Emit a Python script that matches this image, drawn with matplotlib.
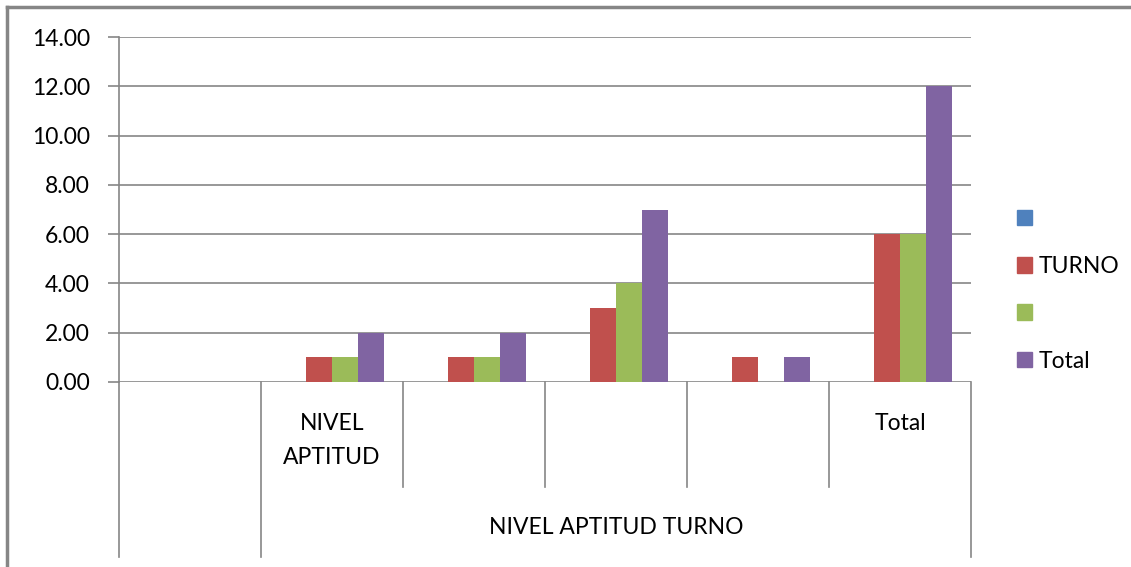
import numpy as np
import matplotlib
matplotlib.use("Agg")
import matplotlib.pyplot as plt
from matplotlib.lines import Line2D
from matplotlib.patches import Patch

plt.rcParams['font.family'] = ['Lato', 'DejaVu Sans']

# Categorías del eje X (nivel inferior) y series
categorias = ["", "NIVEL\nAPTITUD", "", "", "", "Total"]
grupo = "NIVEL APTITUD TURNO"
series = ["", "TURNO", "", "Total"]
serie_azul = [0, 0, 0, 0, 0, 0]
serie_turno = [0, 1, 1, 3, 1, 6]
serie_verde = [0, 1, 1, 4, 0, 6]
serie_total = [0, 2, 2, 7, 1, 12]
colores = ["#4F81BD", "#C0504D", "#9BBB59", "#8064A2"]

W, H = 1131, 567
fig = plt.figure(figsize=(W / 100, H / 100), dpi=100)
gris = "#868686"
fs = 16.5

# marco exterior (solo se ven el borde izquierdo y el superior)
fig.add_artist(Line2D([7 / W, 7 / W], [0, 1 - 7 / H], color=gris, lw=2.5))
fig.add_artist(Line2D([7 / W, 1], [1 - 7 / H, 1 - 7 / H], color=gris, lw=2.5))

x0, x1, y0, y1 = 119, 971, 382, 37
ax = fig.add_axes([x0 / W, 1 - y0 / H, (x1 - x0) / W, (y0 - y1) / H])

n = len(categorias)
ancho = 1 / 5.5
datos = [serie_azul, serie_turno, serie_verde, serie_total]
x = np.arange(n) + 0.5
for i, (vals, col) in enumerate(zip(datos, colores)):
    ax.bar(x + (i - 1.5) * ancho, vals, width=ancho, color=col, zorder=3)

ax.set_xlim(0, n)
ax.set_ylim(0, 14)
ax.set_yticks(np.arange(0, 15, 2))
ax.set_yticklabels([f"{v:.2f}" for v in np.arange(0, 15, 2)], fontsize=fs)
ax.yaxis.grid(True, color=gris, lw=1.2, zorder=0)
ax.set_xticks([])
ax.tick_params(axis='y', length=8, width=1.2, color=gris, pad=13)
for s in ["top", "right", "bottom"]:
    ax.spines[s].set_visible(False)
ax.spines["left"].set_color(gris)
ax.spines["left"].set_linewidth(1.2)

# eje de categorías en dos niveles
tr = ax.get_xaxis_transform()
prof1 = (y0 - 487) / (y0 - y1)
prof2 = (y0 - 557) / (y0 - y1)
for k in range(n + 1):
    abajo = prof2 if k in (0, 1, n) else prof1
    ax.add_line(Line2D([k, k], [0, abajo], transform=tr, color=gris, lw=1.2, clip_on=False))
for k, txt in enumerate(categorias):
    if txt:
        ax.text(k + 0.5, (y0 - 413) / (y0 - y1), txt, transform=tr, ha="center", va="top",
                fontsize=fs, linespacing=1.75)
ax.text((1 + n) / 2, (y0 - 527) / (y0 - y1), grupo, transform=tr, ha="center", va="center",
        fontsize=fs)

# leyenda a la derecha
handles = [Patch(color=c) for c in colores]
fig.legend(handles, series, loc="center left", bbox_to_anchor=(996 / W, 1 - 290 / H),
           frameon=False, fontsize=fs, handlelength=0.68, handleheight=0.68,
           labelspacing=1.15, handletextpad=0.3)

fig.savefig("out.png", dpi=100)
